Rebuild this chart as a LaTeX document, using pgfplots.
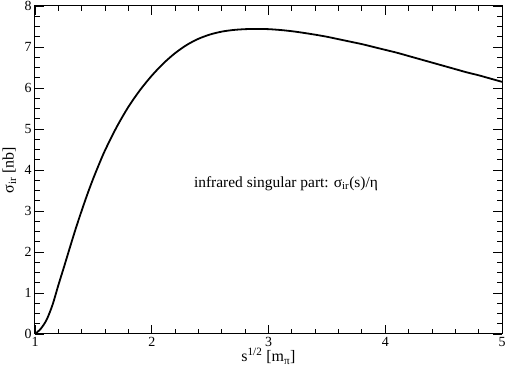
\documentclass[border=0pt]{standalone}
\usepackage{fontspec}
\setmainfont{Liberation Serif}
\usepackage{pgfplots}
\pgfplotsset{compat=1.18}

\begin{document}
\begin{tikzpicture}
\begin{axis}[
	scale only axis, width=467bp, height=328bp,
	xmin=1, xmax=5, ymin=0, ymax=8,
	xtick={1,2,3,4,5}, ytick={0,1,2,3,4,5,6,7,8},
	minor x tick num=4, minor y tick num=3,
	tick align=inside,
	major tick length=9bp, minor tick length=5bp,
	axis line style={line width=1bp},
	every tick/.style={black, line width=0.9bp},
	tick label style={font=\fontsize{14}{16}\selectfont},
	/pgf/number format/assume math mode=true,
	label style={font=\fontsize{16}{18}\selectfont},
	xlabel={s\textsuperscript{1/2} [m\textsubscript{π}]},
	ylabel={σ\textsubscript{ir} [nb]},
	xlabel style={at={(axis description cs:0.5,-0.067)}, anchor=center},
	ylabel style={at={(axis description cs:-0.055,0.5)}, anchor=center},
	]
	% sigma_ir
	\addplot[black, line width=1.8bp, smooth] coordinates {
		(1.00,0.00) (1.05,0.13) (1.10,0.35) (1.15,0.71) (1.20,1.19)
		(1.25,1.65) (1.30,2.12) (1.35,2.58) (1.40,3.01) (1.45,3.42)
		(1.50,3.80) (1.55,4.15) (1.60,4.48) (1.70,5.05) (1.80,5.54)
		(1.90,5.95) (2.00,6.30) (2.10,6.60) (2.20,6.85) (2.30,7.05)
		(2.40,7.20) (2.50,7.305) (2.60,7.375) (2.70,7.415) (2.80,7.435)
		(2.90,7.44) (3.00,7.435) (3.10,7.415) (3.20,7.385) (3.30,7.345)
		(3.40,7.30) (3.50,7.25) (3.60,7.19) (3.70,7.13) (3.80,7.07)
		(3.90,7.00) (4.00,6.93) (4.10,6.86) (4.20,6.78) (4.30,6.70)
		(4.40,6.62) (4.50,6.54) (4.60,6.46) (4.70,6.38) (4.80,6.31)
		(4.90,6.23) (5.00,6.15)};
	\node[font=\fontsize{15.5}{18}\selectfont] at (axis cs:3.15,3.66)
		{infrared singular part: σ\textsubscript{ir}(s)/η};
\end{axis}
\pgfresetboundingbox
\useasboundingbox ([shift={(-35bp,-46bp)}]current axis.south west)
	rectangle ([shift={(5bp,6bp)}]current axis.north east);
\end{tikzpicture}
\end{document}
